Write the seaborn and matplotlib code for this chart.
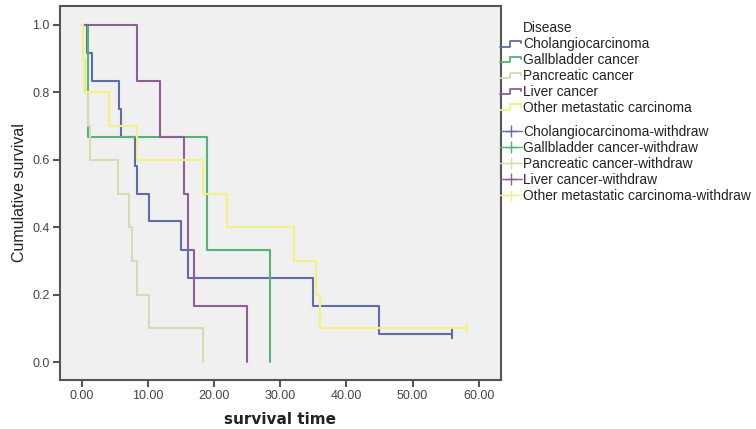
import numpy as np
import pandas as pd
import matplotlib
matplotlib.use("Agg")
import matplotlib.pyplot as plt
import seaborn as sns
from matplotlib.lines import Line2D
from matplotlib.legend_handler import HandlerBase

# ---- data ----
diseases = ["Cholangiocarcinoma", "Gallbladder cancer", "Pancreatic cancer",
            "Liver cancer", "Other metastatic carcinoma"]
chol_t = [0.3, 0.8, 1.5, 5.7, 6.0, 8.0, 8.4, 10.2, 15.0, 16.0, 35.0, 45.0, 56.0]
chol_s = [1.0, 0.917, 0.833, 0.75, 0.667, 0.583, 0.5, 0.417, 0.333, 0.25, 0.167, 0.083, 0.083]
gall_t = [0.3, 1.0, 19.0, 28.5]
gall_s = [1.0, 0.667, 0.333, 0.0]
panc_t = [0.1, 0.2, 0.5, 1.0, 1.3, 5.5, 7.2, 7.6, 8.3, 10.2, 18.3]
panc_s = [1.0, 0.9, 0.8, 0.7, 0.6, 0.5, 0.4, 0.3, 0.2, 0.1, 0.0]
liver_t = [0.5, 8.3, 11.8, 15.5, 16.0, 17.0, 25.0]
liver_s = [1.0, 0.833, 0.667, 0.5, 0.333, 0.167, 0.0]
other_t = [0.15, 0.2, 0.3, 4.2, 8.4, 18.4, 22.0, 32.1, 35.4, 36.0, 58.2]
other_s = [1.0, 0.9, 0.8, 0.7, 0.6, 0.5, 0.4, 0.3, 0.2, 0.1, 0.1]
# censored (withdraw) observations
cens_disease = ["Cholangiocarcinoma", "Other metastatic carcinoma"]
cens_t = [56.0, 58.2]
cens_s = [0.083, 0.1]

x_ticks = [0, 10, 20, 30, 40, 50, 60]
y_ticks = [0.0, 0.2, 0.4, 0.6, 0.8, 1.0]

colors = ["#5f6ca8", "#55b375", "#d9d9b2", "#8e5e95", "#f3f085"]
palette = dict(zip(diseases, colors))

rows = []
for name, t, s in zip(diseases, [chol_t, gall_t, panc_t, liver_t, other_t],
                      [chol_s, gall_s, panc_s, liver_s, other_s]):
    for ti, si in zip(t, s):
        rows.append({"Disease": name, "time": ti, "surv": si})
df = pd.DataFrame(rows)
cens_df = pd.DataFrame({"Disease": cens_disease, "time": cens_t, "surv": cens_s})

sns.set_style("ticks")
plt.rcParams["font.family"] = ["Liberation Sans", "DejaVu Sans"]

fig = plt.figure(figsize=(7.56, 4.29), dpi=100)
ax = fig.add_axes([60 / 756, 1 - 380 / 429, (500.6 - 60) / 756, (380 - 6) / 429])
ax.set_facecolor("#f0f0f0")

sns.lineplot(data=df, x="time", y="surv", hue="Disease", palette=palette,
             hue_order=diseases, estimator=None, sort=False, units="Disease",
             drawstyle="steps-post", linewidth=1.5, legend=False, ax=ax)
sns.scatterplot(data=cens_df, x="time", y="surv", hue="Disease", palette=palette,
                marker="|", s=50, linewidth=1.5, legend=False, ax=ax)

ax.set_xlim(-3.28, 63.3)
ax.set_ylim(-0.053, 1.056)
ax.set_xticks(x_ticks)
ax.set_xticklabels([f"{v:.2f}" for v in x_ticks])
ax.set_yticks(y_ticks)
ax.set_yticklabels([f"{v:.1f}" for v in y_ticks])
ax.tick_params(axis="both", direction="out", length=5, width=1.5, color="#555555",
               labelsize=9, labelcolor="#444444", pad=2.5)
for sp in ax.spines.values():
    sp.set_color("#555555")
    sp.set_linewidth(1.5)
ax.set_xlabel("survival time", fontsize=11, fontweight="bold",
              family=["DejaVu Sans"], color="#222222", labelpad=7)
ax.set_ylabel("Cumulative survival", fontsize=11.5, color="#222222", labelpad=4)


class StepHandler(HandlerBase):
    def create_artists(self, legend, orig_handle, xdescent, ydescent, width, height,
                       fontsize, trans):
        y0 = -ydescent + height * 0.15
        y1 = -ydescent + height * 0.75
        xs = [-xdescent, -xdescent + width * 0.45, -xdescent + width * 0.45,
              -xdescent + width * 0.95, -xdescent + width * 0.95]
        ys = [y0, y0, y1, y1, y1 - height * 0.25]
        ln = Line2D(xs, ys, color=orig_handle.get_color(), linewidth=1.3)
        ln.set_transform(trans)
        return [ln]


curve_handles = [Line2D([], [], color=c) for c in colors]
cens_handles = [Line2D([], [], color=c, marker="+", markersize=8, linewidth=1.0)
                for c in colors]

fig.text(523 / 756, 1 - 28 / 429, "Disease", fontsize=9.9, va="center", ha="left",
         color="#222222")
common = dict(loc="upper left", frameon=False, fontsize=9.9, handlelength=1.6,
              handletextpad=0.1, borderpad=0, borderaxespad=0, labelspacing=0.14)
leg1 = fig.legend(curve_handles, diseases, bbox_to_anchor=(500 / 756, 1 - 37 / 429),
                  handler_map={Line2D: StepHandler()}, **common)
leg2 = fig.legend(cens_handles, [d + "-withdraw" for d in diseases],
                  bbox_to_anchor=(500 / 756, 1 - 125 / 429), **common)
for lg in (leg1, leg2):
    for t in lg.get_texts():
        t.set_color("#222222")

fig.savefig("out.png", dpi=100)
